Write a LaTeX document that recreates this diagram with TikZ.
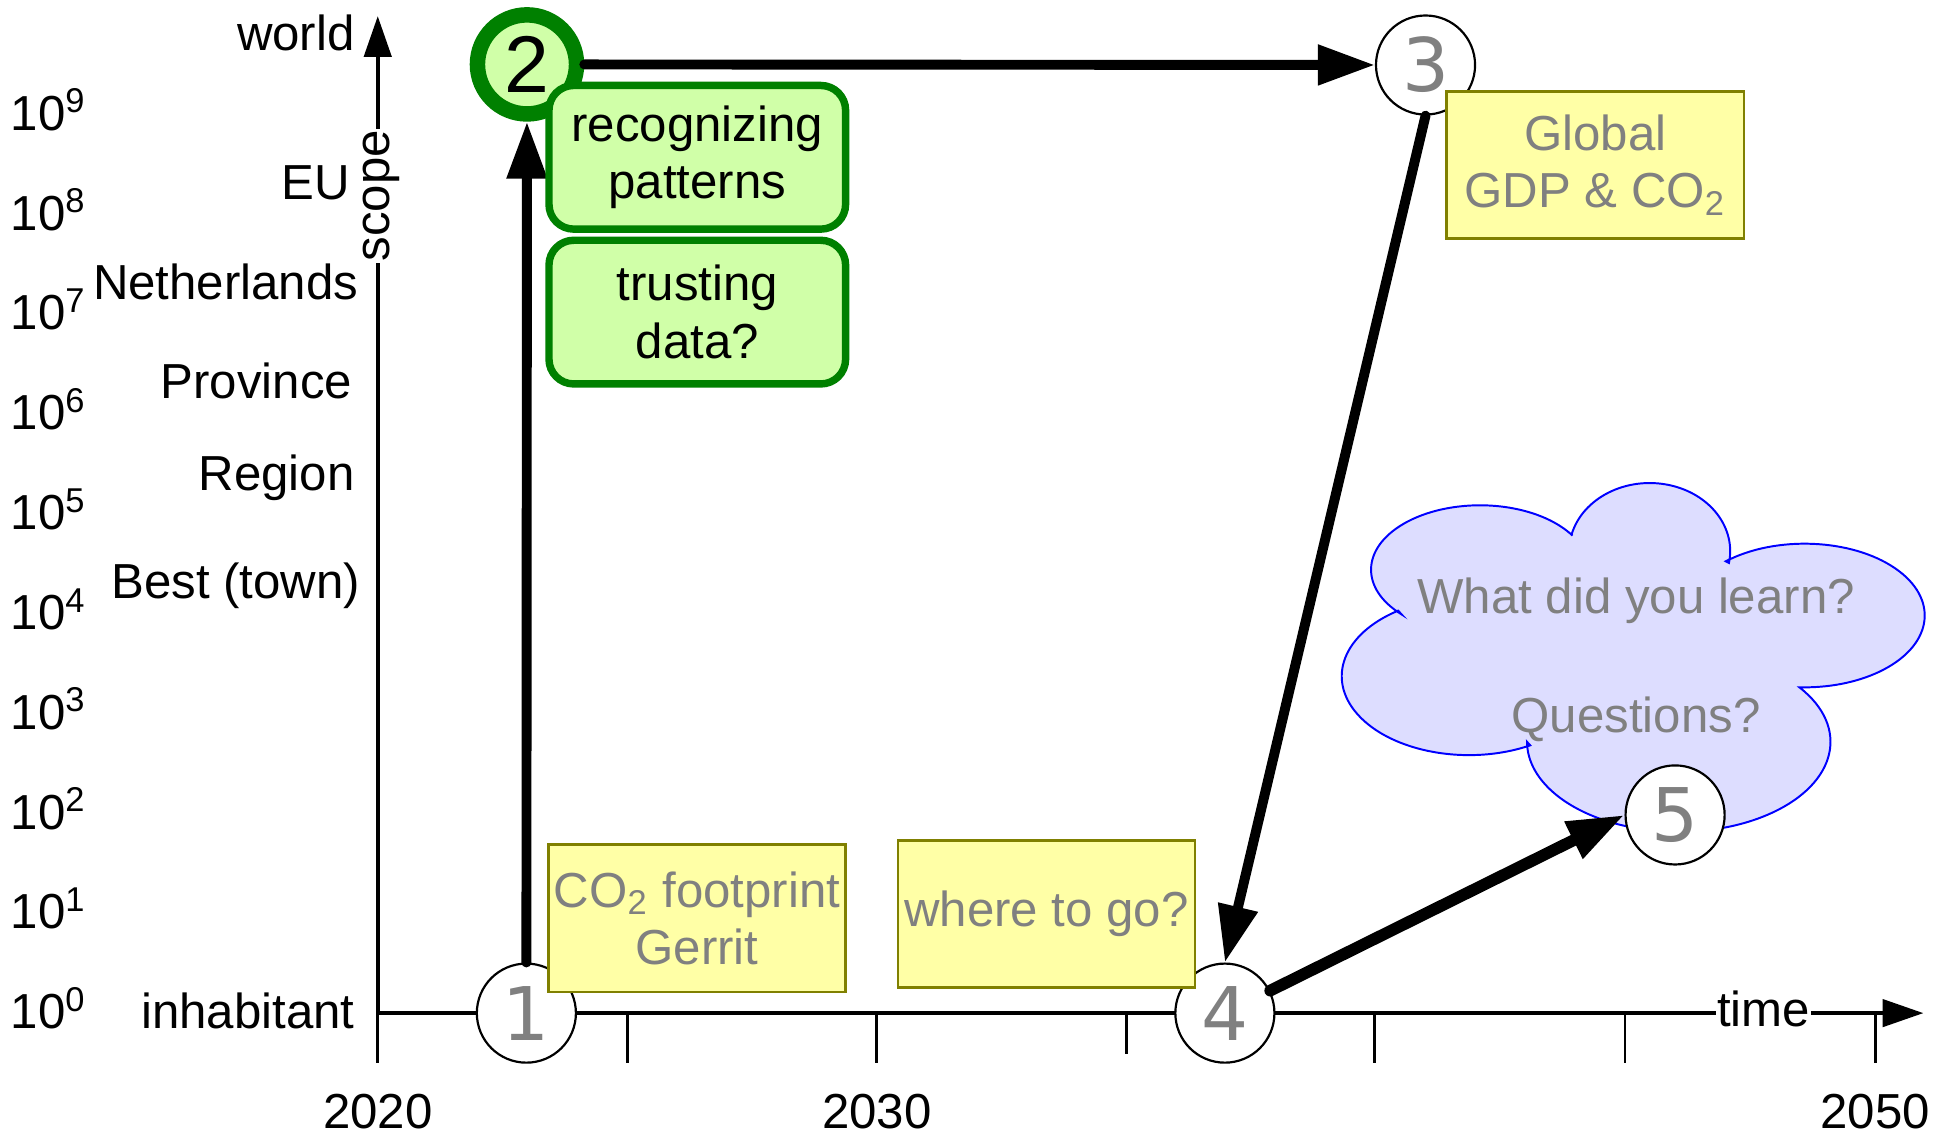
\documentclass[tikz,border=0pt]{standalone}
\usepackage{fontspec}
\setmainfont{Liberation Sans}
\newfontfamily\digitfont{DejaVu Sans}
\usepackage[]{tikz}
\usetikzlibrary{positioning,arrows.meta}
\definecolor{stepgreen}{RGB}{0,128,0}
\definecolor{stepgreenfill}{RGB}{208,255,168}
\definecolor{noteyellow}{RGB}{255,255,166}
\definecolor{noteolive}{RGB}{128,128,0}
\definecolor{cloudfill}{RGB}{221,221,255}
\definecolor{softgray}{RGB}{128,128,128}
\tikzset{axis/.style={line width=0.9pt,-{Triangle[length=3.3mm,width=2.2mm]}}}
\tikzset{tick/.style={line width=0.65pt}}
\tikzset{lbl/.style={anchor=base east,inner sep=0pt}}
\tikzset{stage/.style={circle,draw,fill=white,line width=0.5pt,minimum size=8mm,inner sep=0pt,text=softgray,font=\digitfont\fontsize{17}{17}\selectfont}}
\tikzset{hot/.style={circle,draw=stepgreen,fill=stepgreenfill,line width=1.25mm,minimum size=8mm,inner sep=0pt,font=\fontsize{18.5}{18.5}\selectfont}}
\tikzset{greenbox/.style={draw=stepgreen,fill=stepgreenfill,line width=0.6mm,rounded corners=2mm,minimum width=23.95mm,minimum height=11.6mm,align=center,inner sep=0pt}}
\tikzset{note/.style={draw=noteolive,fill=noteyellow,line width=0.6pt,minimum width=24mm,minimum height=11.9mm,align=center,text=softgray,inner sep=0pt}}
\tikzset{jump/.style={line width=0.8mm,line cap=round,-{Triangle[length=4.6mm,width=3.1mm]}}}

\begin{document}
\begin{tikzpicture}[x=0.1mm,y=0.1mm,font=\fontsize{11.3}{13.2}\selectfont] %单位取0.1mm
    \useasboundingbox (0,0) rectangle (1568,916);
    \coordinate (origin) at (305,98);
    \coordinate (ytop) at (305,903);
    \coordinate (xend) at (1553,98);
    \foreach \t/\len in {305/40,506.5/40,708/40,909.5/33,1110/40,1312/40,1514/40}
        \draw[tick] (\t,98) -- ++(0,-\len);
    \draw[axis] (origin) -- (ytop);
    \draw[axis] (origin) -- (xend);  % 坐标轴
    \node[rotate=90,fill=white,inner xsep=0.1mm,inner ysep=0.3mm] (scope) at (308,758) {scope};
    \node[fill=white,anchor=base,inner xsep=0.1mm,inner ysep=0.3mm] (time) at (1424,87) {time};
    \foreach \k in {0,...,9}
        \node[anchor=base west,inner sep=0pt] (pow\k) at (8,{85.4+80.6*\k}) {10\textsuperscript{\k}};
    \node[lbl] (world) at (287,875) {world};
    \node[lbl] (eu) at (283,755) {EU};
    \node[lbl] (nl) at (290,674.5) {Netherlands};
    \node[lbl] (prov) at (285,594) {Province};
    \node[lbl] (region) at (287,520) {Region};
    \node[lbl] (town) at (291.5,432.4) {Best (town)};
    \node[lbl] (inhab) at (287,85.4) {inhabitant};
    \node[anchor=base] (y2020) at (305,5) {2020};
    \node[anchor=base] (y2030) at (708,5) {2030};
    \node[anchor=base] (y2050) at (1514,5) {2050};
    % 云
    \draw[blue,fill=cloudfill,line width=0.45pt] (1131.7,419.9)
        arc[start angle=224,end angle=32,x radius=8.8mm,y radius=5.2mm]
        -- (1268.9,484.3) arc[start angle=166,end angle=-10,x radius=6.5mm,y radius=5.5mm]
        -- (1393.4,462.8) arc[start angle=131,end angle=-90,x radius=9.7mm,y radius=5.8mm]
        -- (1452.9,361) arc[start angle=37.3,end angle=-180,x radius=12.25mm,y radius=7.26mm]
        -- (1235.5,314.2) arc[start angle=-61.2,end angle=-236.2,x radius=10.27mm,y radius=6.37mm]
        -- cycle;
    \node[text=softgray,anchor=base] (learn) at (1321,421) {What did you learn?};
    \node[text=softgray,anchor=base] (questions) at (1321,324.6) {Questions?};
    \node[stage] (n1) at (425,98) {1};
    \node[hot] (n2) at (425.5,864) {2};
    \node[stage] (n3) at (1151,863.5) {3};
    \node[stage] (n4) at (989,98) {4};
    \node[stage] (n5) at (1352.5,258) {5};
    \draw[jump] (n1) -- (n2);
    \draw[jump] (n2) -- (n3);
    \draw[jump] (n3.south) -- (n4.north);
    \draw[jump,line width=0.95mm] (n4) -- (n5.west);
    \node[greenbox] (rec) at (563,789) {recognizing\\patterns};
    \node[greenbox,below=0.3mm of rec] (trust) {trusting\\data?};
    \node[note] (footprint) at (562.8,174.5) {CO\textsubscript{2} footprint\\Gerrit};
    \node[note] (whereto) at (845,178) {where to go?};
    \node[note] (global) at (1288,782.8) {Global\\GDP \& CO\textsubscript{2}};
\end{tikzpicture}
\end{document}
